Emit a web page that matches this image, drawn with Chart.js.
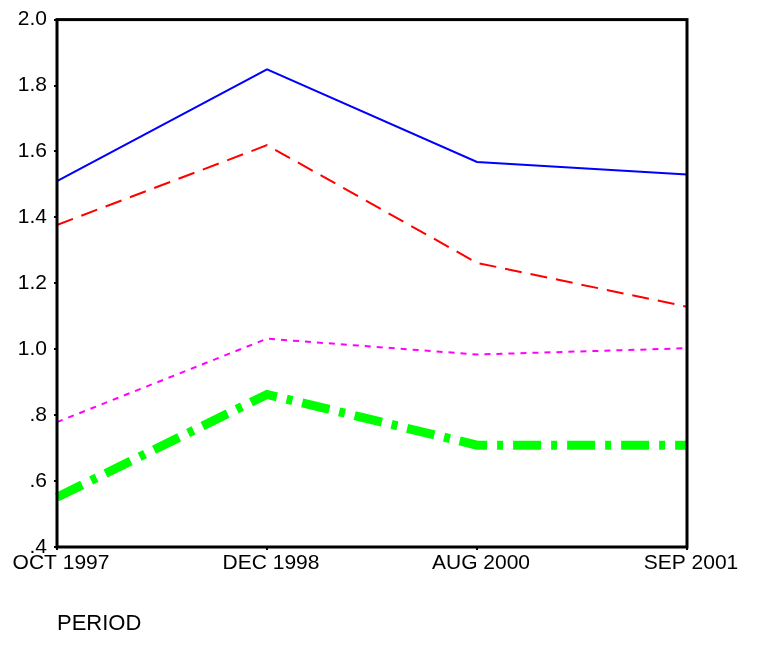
<!DOCTYPE html>
<html>
<head>
<meta charset="utf-8">
<script src="https://cdn.jsdelivr.net/npm/chart.js@4/dist/chart.umd.min.js"></script>
<style>
html,body{margin:0;padding:0;background:#fff;}
#wrap{width:765px;height:654px;position:relative;}
</style>
</head>
<body>
<div id="wrap"><canvas id="c" width="765" height="654"></canvas></div>
<script>
const categories = ['OCT 1997', 'DEC 1998', 'AUG 2000', 'SEP 2001'];
const seriesBlue = [1.510, 1.849, 1.568, 1.530];
const seriesRed = [1.377, 1.619, 1.262, 1.129];
const seriesMagenta = [0.779, 1.032, 0.984, 1.003];
const seriesGreen = [0.551, 0.863, 0.709, 0.709];
const yTickLabels = ['.4', '.6', '.8', '1.0', '1.2', '1.4', '1.6', '1.8', '2.0'];
const xAxisTitle = 'PERIOD';

const FONT = '"Liberation Sans", Arial, sans-serif';

const framePlugin = {
  id: 'frame',
  afterDatasetsDraw(chart) {
    const a = chart.chartArea, ctx = chart.ctx;
    ctx.save();
    ctx.strokeStyle = '#000';
    ctx.lineWidth = 3;
    ctx.setLineDash([]);
    ctx.strokeRect(a.left, a.top, a.right - a.left, a.bottom - a.top);
    ctx.restore();
  }
};

new Chart(document.getElementById('c'), {
  type: 'line',
  data: {
    labels: categories,
    datasets: [
      { data: seriesBlue, borderColor: '#0000ff', borderWidth: 2, borderDash: [] },
      { data: seriesRed, borderColor: '#ff0000', borderWidth: 2, borderDash: [17, 9] },
      { data: seriesMagenta, borderColor: '#ff00ff', borderWidth: 2, borderDash: [6, 6] },
      { data: seriesGreen, borderColor: '#00ff00', borderWidth: 9, borderDash: [28, 10, 6, 10], borderCapStyle: 'butt' }
    ]
  },
  options: {
    responsive: false,
    animation: false,
    devicePixelRatio: 1,
    layout: { padding: { top: 18, right: 78, left: 0, bottom: 0 } },
    elements: { point: { radius: 0 }, line: { tension: 0 } },
    plugins: { legend: { display: false }, tooltip: { enabled: false } },
    scales: {
      x: {
        type: 'category',
        offset: false,
        grid: { drawOnChartArea: false, drawTicks: true, tickLength: 3, color: '#000', lineWidth: 2 },
        border: { display: false },
        ticks: { color: '#000', font: { family: FONT, size: 21 }, padding: 1, maxRotation: 0, autoSkip: false, labelOffset: 4 },
        title: { display: true, text: xAxisTitle, align: 'start', color: '#000', font: { family: FONT, size: 22 }, padding: { top: 0, bottom: 17 } },
        afterFit(s) { s.height = 107; }
      },
      y: {
        min: 0.4,
        max: 2.0,
        grid: { drawOnChartArea: false, drawTicks: true, tickLength: 3, color: '#000', lineWidth: 2 },
        border: { display: false },
        ticks: {
          stepSize: 0.2,
          color: '#000',
          font: { family: FONT, size: 21 },
          padding: 7,
          callback: (v, i) => yTickLabels[i]
        },
        afterFit(s) { s.width = 57; }
      }
    }
  },
  plugins: [framePlugin]
});
</script>
</body>
</html>
